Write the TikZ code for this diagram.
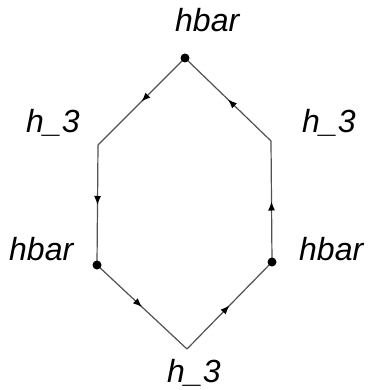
\documentclass[tikz,border=0pt]{standalone}
\usepackage{fontspec}
\setmainfont{Liberation Sans}
\usetikzlibrary{arrows.meta,decorations.markings}
\tikzset{
  edge/.style={draw=black!68, line width=1.2pt,
    postaction={decorate, decoration={markings,
      mark=at position 0.5 with {\arrow[black]{Latex[length=9pt,width=7pt]}}}}},
  vdot/.style={circle, fill=black, inner sep=0pt, minimum size=9pt},
  lbl/.style={anchor=base west, inner sep=0pt, font=\fontsize{32}{36}\selectfont\itshape}
}
\begin{document}
\begin{tikzpicture}[x=1pt,y=-1pt]
\useasboundingbox (0,0) rectangle (373,390);
\fill[white] (0,0) rectangle (373,390);
\coordinate (T) at (185,58);
\coordinate (UL) at (98,145);
\coordinate (LL) at (97,265);
\coordinate (B) at (187,349);
\coordinate (LR) at (272,262);
\coordinate (UR) at (271,141);
\draw[edge] (T) -- (UL);
\draw[edge] (UL) -- (LL);
\draw[edge] (LL) -- (B);
\draw[edge] (B) -- (LR);
\draw[edge] (LR) -- (UR);
\draw[edge] (UR) -- (T);
\node[vdot] (dT) at (T) {};
\node[vdot] (dLL) at (LL) {};
\node[vdot] (dLR) at (LR) {};
\node[lbl] (lT) at (175,32) {hbar};
\node[lbl] (lUL) at (26,132) {h\_3};
\node[lbl] (lUR) at (302,133) {h\_3};
\node[lbl] (lLL) at (9,260) {hbar};
\node[lbl] (lLR) at (299,260) {hbar};
\node[lbl] (lB) at (167,382) {h\_3};
\end{tikzpicture}
\end{document}
